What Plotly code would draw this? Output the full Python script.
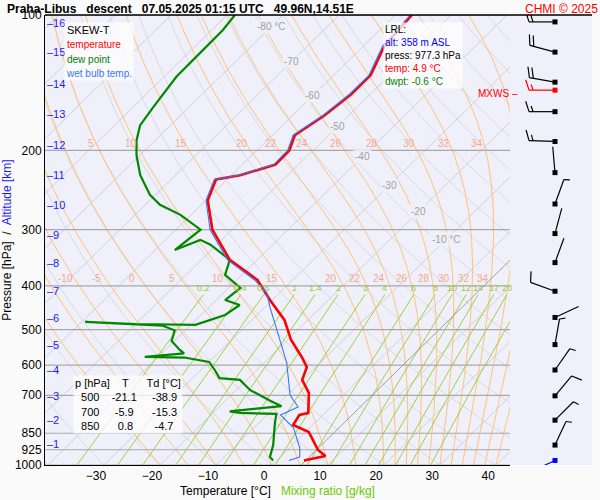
import numpy as np
import plotly.graph_objects as go

# ---------------- data ----------------
temp_p = [977, 955, 926, 845, 815, 774, 766, 692, 647, 606, 578, 527, 476, 430, 388, 350, 300, 258, 232, 227, 215, 200, 185, 167, 150, 136, 117, 100]
temp_t = [4.9, 7.9, 5.5, 0.6, -3.5, -4.2, -3.0, -6.5, -10.1, -11.6, -14.1, -19.4, -24.2, -30.4, -36.3, -44.9, -53.5, -59.7, -62.0, -58.5, -54.1, -54.2, -56.0, -54.3, -53.4, -53.4, -56.3, -57.0]

dew_p = [977, 960, 903, 807, 770, 766, 760, 740, 720, 681, 647, 641, 615, 590, 577, 575, 565, 555, 530, 502, 490, 481, 486, 488, 464, 441, 430, 404, 378, 350, 324, 316, 333, 300, 278, 264, 251, 227, 205, 190, 176, 160, 137, 122, 108, 100]
dew_t = [-0.6, -1.8, -3.4, -7.1, -8.5, -15.2, -17.3, -9.0, -12.0, -17.6, -21.2, -25.2, -27.5, -30.0, -35.2, -42.4, -36.0, -37.4, -40.5, -41.9, -45.0, -59.4, -50.0, -39.2, -35.7, -34.9, -38.4, -37.9, -43.0, -44.9, -51.1, -53.8, -56.5, -55.6, -61.9, -67.4, -71.0, -76.3, -80.6, -83.3, -85.4, -86.4, -87.8, -87.9, -88.0, -88.6]

wb_p = [977, 960, 917, 827, 774, 743, 699, 594, 555, 469, 446, 415, 388, 350, 300, 258, 232, 227, 215, 200, 185, 167, 150, 136, 117, 100]
wb_t = [2.2, 3.5, 1.9, -2.9, -7.6, -5.9, -9.5, -15.9, -19.0, -26.8, -29.1, -32.2, -36.8, -45.3, -53.9, -60.0, -62.3, -58.8, -54.4, -54.5, -56.3, -54.6, -53.7, -53.7, -56.6, -57.3]

wind_p = [103.6, 120.9, 141.0, 146.9, 164.0, 191.0, 224.0, 263.0, 306.0, 355.0, 411.0, 470.0, 540.0, 615.0, 702.0, 795.0, 903.0, 977.0]
wind_dir = [270, 285, 280, 270, 270, 272, 355, 20, 15, 20, 290, 65, 10, 35, 40, 45, 25, 245]
wind_spd = [20, 20, 20, 15, 15, 15, 3, 5, 3, 3, 10, 3, 5, 5, 10, 5, 5, 3]
wind_col = ["black"] * 3 + ["red"] + ["black"] * 13 + ["blue"]

km_labels = [16, 15, 14, 13, 12, 11, 10, 9, 8, 7, 6, 5, 4, 3, 2, 1]
km_p = [104, 121, 142, 166, 194, 227, 265, 308, 356, 411, 472, 540, 616, 701, 795, 899]

p_ticks = [100, 200, 300, 400, 500, 600, 700, 850, 925, 1000]
t_ticks = [-30, -20, -10, 0, 10, 20, 30, 40]
iso_label_t = [-80, -70, -60, -50, -40, -30, -20, -10]
iso_label_p = [106, 127, 151, 177, 206, 239, 274, 316]
thw_vals = [-10, -5, 0, 5, 10, 15, 20, 22, 24, 26, 28, 30, 32, 34]
thw_upper = [5, 10, 15, 20, 22, 24, 26, 28, 30, 32, 34]
mix_vals = [0.2, 0.4, 0.6, 1, 1.4, 2, 3, 4, 6, 8, 10, 12, 14, 17, 20, 25]
mix_lbl = ["0.2", "0.4", "0.6", "1", "1.4", "2", "3", "4", "6", "8", "10", "12", "14", "17", "20", "25"]

K = 82.0
P0 = 1040.0


def skew(t, p):
    return np.asarray(t, float) + K * np.log10(P0 / np.asarray(p, float))


fig = go.Figure()
P = np.logspace(2, 3, 200)

for t in range(-150, 60, 10):
    fig.add_trace(go.Scatter(x=skew(np.full_like(P, t), P), y=P, mode="lines",
                             line=dict(color="#cfcfd8", width=1), hoverinfo="skip", showlegend=False))
for th in range(-40, 220, 10):
    T = (th + 273.15) * (P / 1000.0) ** 0.2857 - 273.15
    fig.add_trace(go.Scatter(x=skew(T, P), y=P, mode="lines",
                             line=dict(color="#d9d9e0", width=1), hoverinfo="skip", showlegend=False))


def es(t):
    return 6.112 * np.exp(17.67 * t / (t + 243.5))


def moist(t0):
    ps = np.linspace(1000, 100, 400)
    ts = [t0]
    t = t0
    for i in range(1, len(ps)):
        p = ps[i - 1]
        dp = ps[i] - p
        Tk = t + 273.15
        rs = 0.622 * es(t) / (p - es(t))
        Lv = 2.5e6
        num = 287.0 * Tk + Lv * rs
        den = 1004.0 + Lv * Lv * rs * 0.622 / (287.0 * Tk * Tk)
        t = t + num / (den * p) * dp
        ts.append(t)
    return ps, np.array(ts)


for tw in thw_vals + [-20, -15, 36, 38, 40]:
    ps, ts = moist(tw)
    fig.add_trace(go.Scatter(x=skew(ts, ps), y=ps, mode="lines",
                             line=dict(color="#ffc27a", width=1), hoverinfo="skip", showlegend=False))
    if tw in thw_vals:
        tl = np.interp(np.log(385), np.log(ps[::-1]), ts[::-1])
        fig.add_annotation(x=float(skew(tl, 385)) - 1.5, y=np.log10(385), text=str(tw), showarrow=False,
                           font=dict(size=10, color="#f5a88a"))
    if tw in thw_upper:
        tl = np.interp(np.log(200), np.log(ps[::-1]), ts[::-1])
        fig.add_annotation(x=float(skew(tl, 200)) - 1.5, y=np.log10(200), yshift=7, text=str(tw), showarrow=False,
                           font=dict(size=10, color="#f5a88a"))

Pm = np.logspace(np.log10(418), 3, 50)
for w, lb in zip(mix_vals, mix_lbl):
    e = w * Pm / (622.0 + w)
    a = np.log(e / 6.112)
    Td = 243.5 * a / (17.67 - a)
    fig.add_trace(go.Scatter(x=skew(Td, Pm), y=Pm, mode="lines",
                             line=dict(color="#a0d040", width=1), hoverinfo="skip", showlegend=False))
    fig.add_annotation(x=float(skew(Td[0], 418)), y=np.log10(418), yshift=7, text=lb, showarrow=False,
                       font=dict(size=9, color="#99cc33"))

for p in p_ticks:
    fig.add_trace(go.Scatter(x=[-40, 45], y=[p, p], mode="lines",
                             line=dict(color="#a8a8a8", width=1.2), hoverinfo="skip", showlegend=False))

Pl = np.logspace(np.log10(316), 3, 20)
fig.add_trace(go.Scatter(x=skew(np.full_like(Pl, 5.2), Pl), y=Pl, mode="lines",
                         line=dict(color="#8a8a9a", width=0.8), hoverinfo="skip", showlegend=False))

fig.add_trace(go.Scatter(x=skew(dew_t, dew_p), y=dew_p, mode="lines",
                         line=dict(color="#008800", width=2.2), showlegend=False))
fig.add_trace(go.Scatter(x=skew(temp_t, temp_p), y=temp_p, mode="lines",
                         line=dict(color="#ff0000", width=2.6), showlegend=False))
fig.add_trace(go.Scatter(x=skew(wb_t, wb_p), y=wb_p, mode="lines",
                         line=dict(color="#3377ff", width=1.1), showlegend=False))

for t, p in zip(iso_label_t, iso_label_p):
    txt = f"{t} °C" if t in (-80, -10) else str(t)
    fig.add_annotation(x=float(skew(t, p)), y=np.log10(p), text=txt, showarrow=False,
                       font=dict(size=10, color="#a0a0a0"), bgcolor="rgba(240,240,250,0.8)")

for k, p in zip(km_labels, km_p):
    fig.add_annotation(xref="paper", x=0.0, xanchor="left", y=np.log10(p), text="–" + str(k),
                       showarrow=False, font=dict(size=11, color="#1a1aff"))

# wind barbs (barb panel axis in pixel-like units)
segs = {}
dots = {}
for p, d, s, c in zip(wind_p, wind_dir, wind_spd, wind_col):
    y0 = 15 + 450 * (np.log10(p) - 2)
    x0 = 555.0
    r = np.radians(d)
    ux, uy = np.sin(r), -np.cos(r)
    px, py = -uy, ux
    L = 26.0
    xs, ys = segs.setdefault(c, ([], []))
    xs += [x0, x0 + L * ux, None]
    ys += [y0, y0 + L * uy, None]
    rem = s
    pos = L
    while rem >= 5:
        f = 11.0 if rem >= 10 else 6.0
        bx, by = x0 + pos * ux, y0 + pos * uy
        xs += [bx, bx + f * (px * 0.95 + ux * 0.3), None]
        ys += [by, by + f * (py * 0.95 + uy * 0.3), None]
        rem -= 10 if rem >= 10 else 5
        pos -= 4
    dx, dy = dots.setdefault(c, ([], []))
    dx.append(x0)
    dy.append(y0)
for c, (xs, ys) in segs.items():
    fig.add_trace(go.Scatter(x=xs, y=ys, xaxis="x2", yaxis="y2", mode="lines",
                             line=dict(color=c, width=1.2), hoverinfo="skip", showlegend=False))
for c, (xs, ys) in dots.items():
    fig.add_trace(go.Scatter(x=xs, y=ys, xaxis="x2", yaxis="y2", mode="markers",
                             marker=dict(color=c, size=5, symbol="square"), hoverinfo="skip", showlegend=False))

# plot area spans page x 45..600, y 15..465 (body margin removed via post_script)
W, H = 600, 500
ML, MT, MB, MR = 45, 15, 35, 0
PW = W - ML - MR
dom = 465.0 / PW
fig.update_layout(
    width=W, height=H, margin=dict(l=ML, r=MR, t=MT, b=MB, autoexpand=False),
    paper_bgcolor="#fafafa", plot_bgcolor="#f0f0fa",
    font=dict(family="Liberation Sans, Arial", size=12, color="black"),
    xaxis=dict(domain=[0, dom], range=[-39.1, 43.9], tickvals=t_ticks, showgrid=False, zeroline=False,
               showline=True, linecolor="black", ticks="", automargin=False,
               title=dict(text="Temperature [°C]   <span style='color:#66cc00'>Mixing ratio [g/kg]</span>",
                          font=dict(size=12), standoff=4)),
    yaxis=dict(type="log", range=[3, 2], tickvals=p_ticks, ticktext=[str(v) for v in p_ticks],
               showgrid=False, zeroline=False, showline=True, linecolor="black", ticks="", automargin=False,
               title=dict(text="Pressure [hPa]  /  <span style='color:#1a1aff'>Altitude [km]</span>",
                          font=dict(size=12), standoff=2)),
    xaxis2=dict(domain=[dom, 1], range=[510, 600], visible=False, anchor="y2", automargin=False),
    yaxis2=dict(range=[465, 15], visible=False, anchor="x2", automargin=False),
)
x_end = (592.0 - ML) / PW
fig.add_shape(type="rect", xref="paper", yref="paper", x0=dom, x1=x_end, y0=0, y1=1,
              fillcolor="#f0f0fa", line=dict(width=0), layer="below")
fig.add_shape(type="rect", xref="paper", yref="paper", x0=x_end, x1=1, y0=0, y1=1,
              fillcolor="#fafafa", line=dict(width=0), layer="below")
fig.add_shape(type="line", xref="paper", yref="paper", x0=0, x1=x_end, y0=1, y1=1,
              line=dict(color="black", width=1.5))

fig.add_annotation(xref="paper", yref="paper", x=-40.0 / PW, y=1.0, yanchor="bottom", xanchor="left",
                   text="<b>Praha-Libus   descent   07.05.2025 01:15 UTC   49.96N,14.51E</b>",
                   showarrow=False, font=dict(size=12), yshift=-3)
fig.add_annotation(xref="paper", yref="paper", x=1.0, y=1.0, yanchor="bottom", xanchor="right",
                   text="CHMI © 2025", showarrow=False, font=dict(size=12, color="red"), yshift=-3)
fig.add_annotation(xref="paper", yref="paper", x=0.035, y=0.985, xanchor="left", yanchor="top", align="left",
                   text="SKEW-T<br><span style='font-size:10px;color:red'>temperature</span><br>"
                        "<span style='font-size:10px;color:green'>dew point</span><br>"
                        "<span style='font-size:10px;color:#3377ff'>wet bulb temp.</span>",
                   showarrow=False, font=dict(size=11), bgcolor="rgba(255,255,255,0.75)")
fig.add_annotation(xref="paper", yref="paper", x=(383.0 - ML) / PW, y=0.985, xanchor="left", yanchor="top", align="left",
                   text="LRL:<br><span style='color:blue'>alt: 358 m ASL</span><br>press: 977.3 hPa<br>"
                        "<span style='color:red'>temp: 4.9 °C</span><br><span style='color:green'>dwpt: -0.6 °C</span>",
                   showarrow=False, font=dict(size=10), bgcolor="rgba(255,255,255,0.75)")
fig.add_annotation(xref="paper", yref="paper", x=(73.0 - ML) / PW, y=0.2, xanchor="left", yanchor="top", align="left",
                   text="p [hPa]    T      Td [°C]<br>  500    -21.1     -38.9<br>  700     -5.9      -15.3<br>  850      0.8       -4.7",
                   showarrow=False, font=dict(size=11), bgcolor="rgba(255,255,255,0.75)")
fig.add_annotation(x=520, y=93, xref="x2", yref="y2", xanchor="right", text="MXWS –", showarrow=False,
                   font=dict(size=10, color="red"))
fig.add_annotation(x=500, y=432, xref="x2", yref="y2", xanchor="right", text="=FZLV", showarrow=False,
                   font=dict(size=9, color="red"))
fig.add_annotation(x=500, y=441, xref="x2", yref="y2", xanchor="right", text="=WBZL", showarrow=False,
                   font=dict(size=9, color="#3377ff"))

fig.write_html("out.html", config={"displayModeBar": False},
               post_script="document.body.style.margin='0';")
